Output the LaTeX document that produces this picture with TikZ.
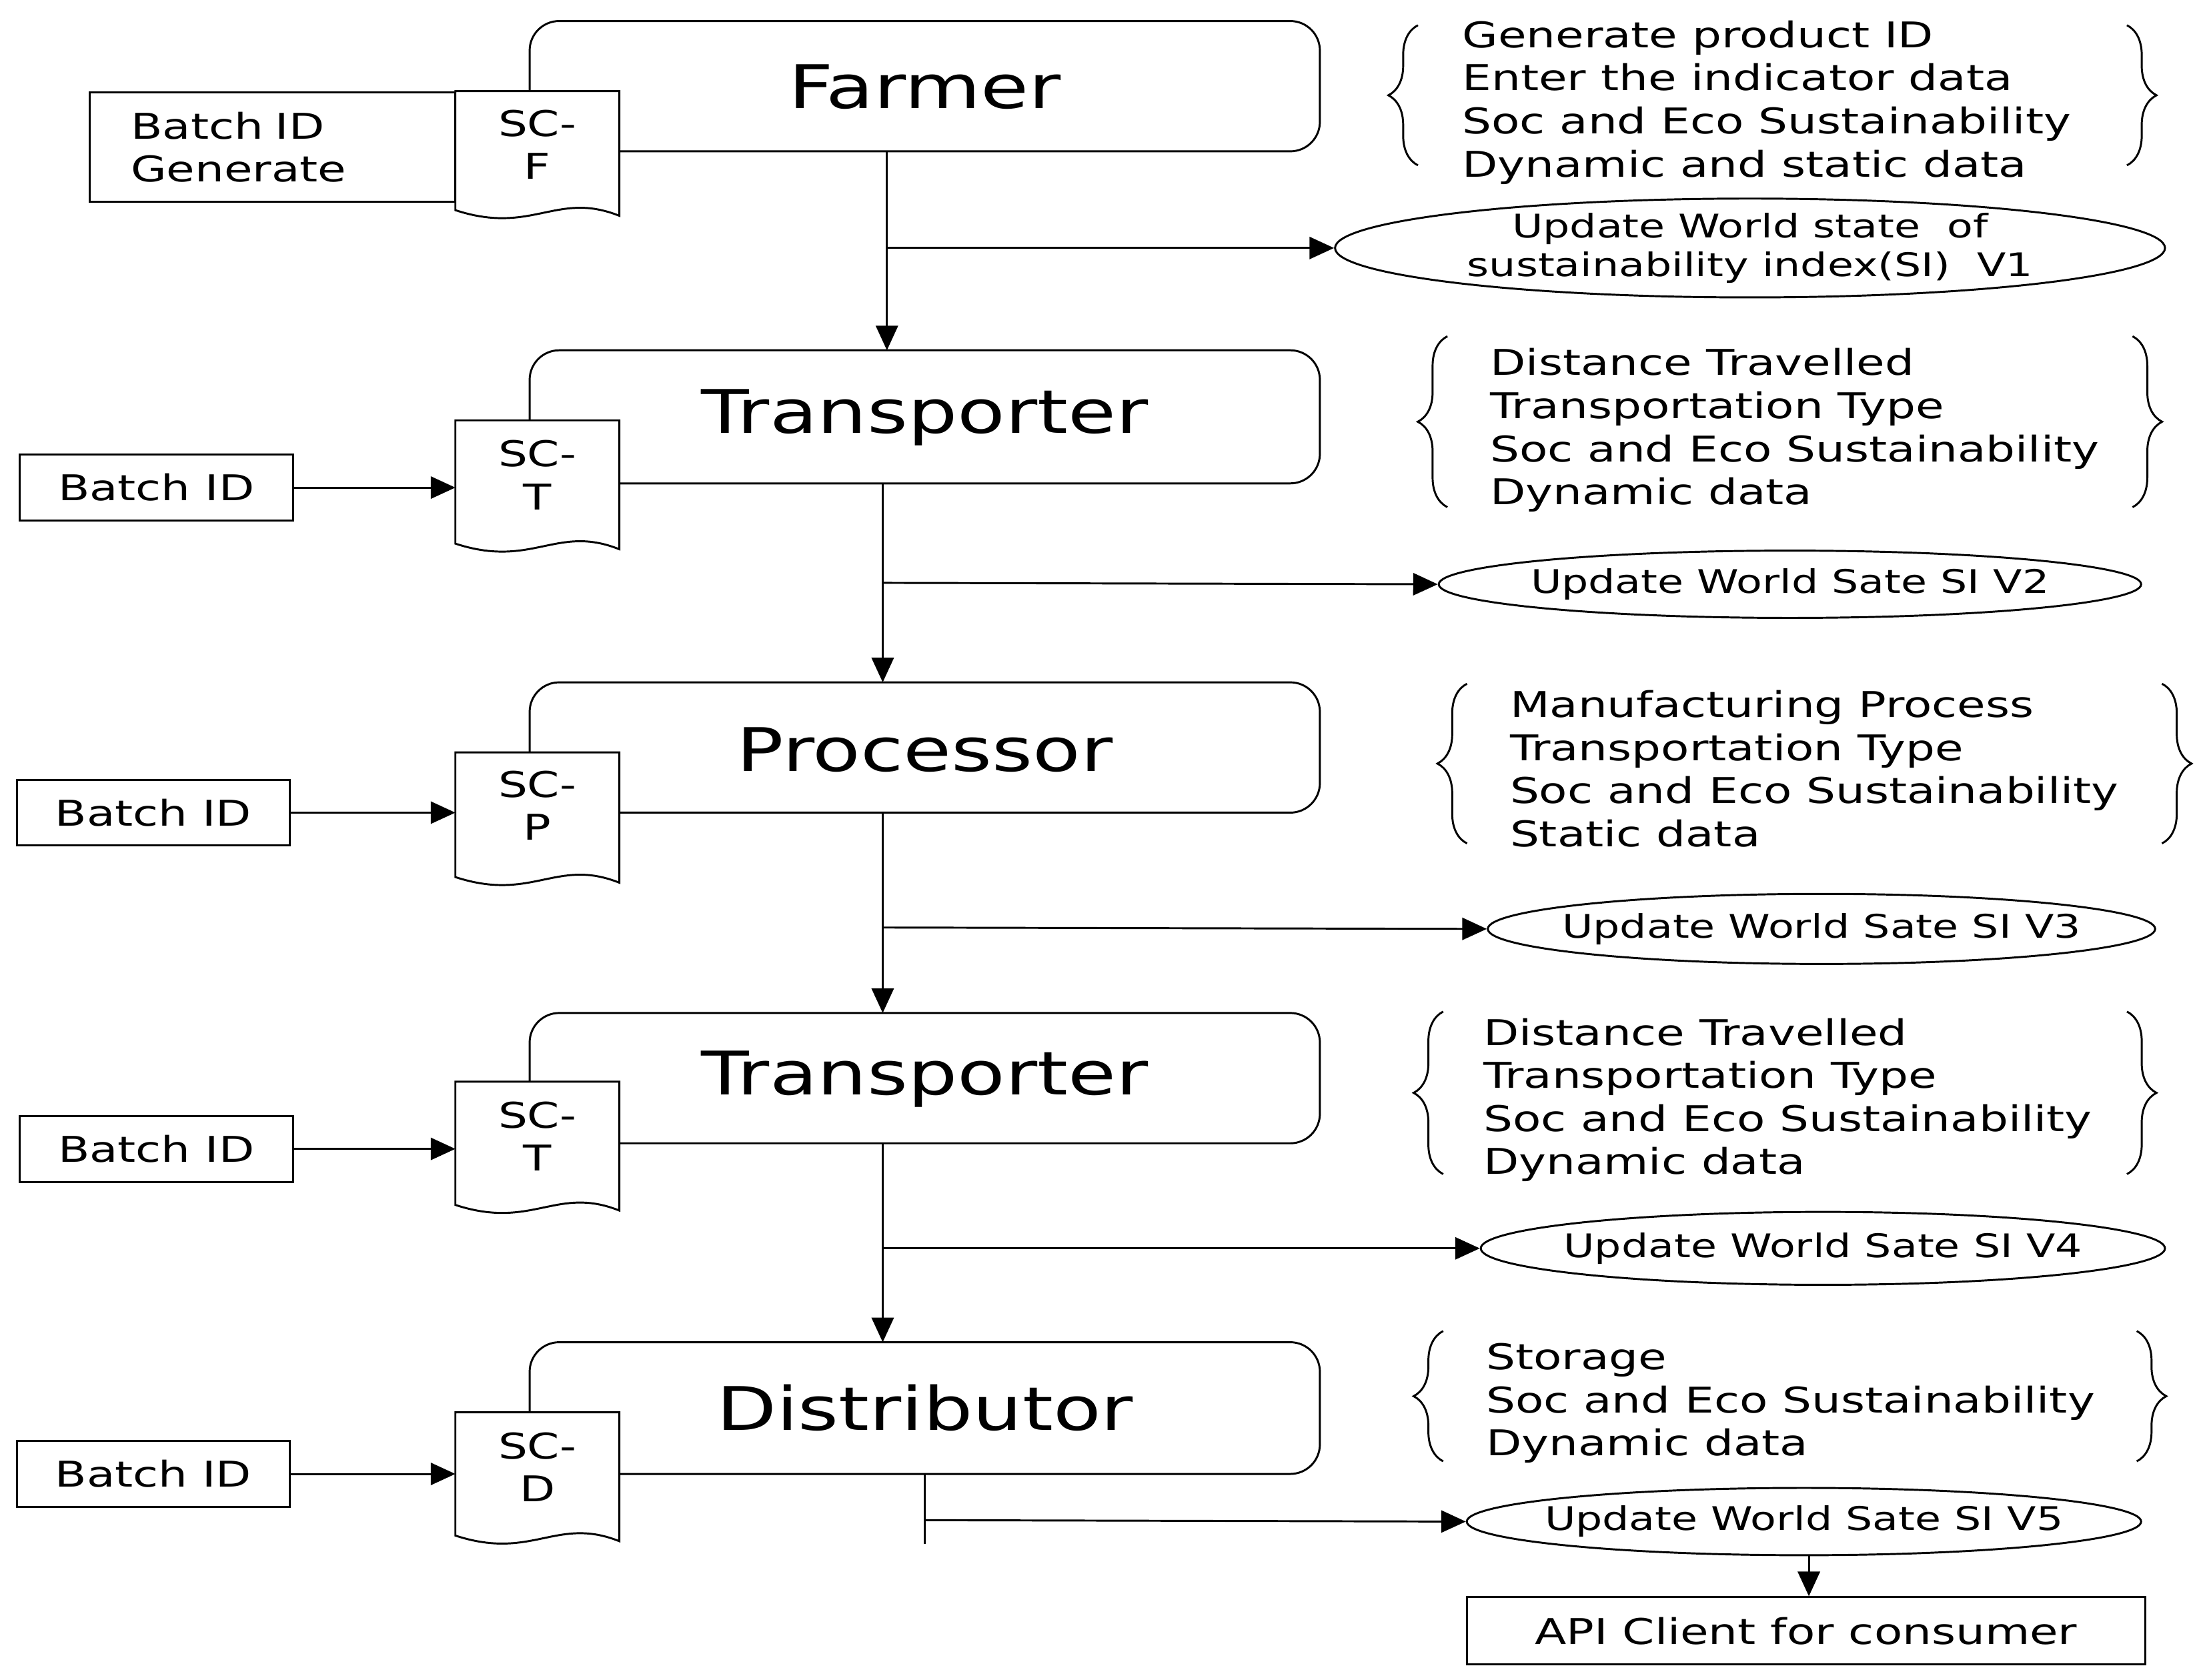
\documentclass[tikz,border=0pt]{standalone}
\usepackage{fontspec}
\setmainfont{DejaVu Sans}[FakeStretch=1.3]
\usetikzlibrary{positioning, arrows.meta, shapes.geometric, decorations.pathreplacing}
\tikzset{
    >={Triangle[length=5pt,width=4.5pt]}, % filled heads
    line width=0.9pt,
}
% document shape with a wavy bottom: x left, x right, y top, y bottom
\newcommand{\docshape}[4]{%
  \draw[fill=white] (#1,#3) -- (#2,#3) -- (#2,#4+4)
    .. controls (#2-45,#4-14) and (#1+55,#4+18) .. (#1,#4) -- cycle;}
% curly braces around a list: x left, x right, y top, y bottom
\newcommand{\listbraces}[4]{%
  \draw[decorate,decoration={brace,amplitude=6pt}] (#1,#4) -- (#1,#3);
  \draw[decorate,decoration={brace,amplitude=6pt}] (#2,#3) -- (#2,#4);}
\begin{document}
\begin{tikzpicture}[x=0.01cm, y=-0.01cm,
        Stage/.style={draw, rounded corners=6pt, fill=white},
        Title/.style={font=\fontsize{12.2}{14}\selectfont},
        Batch/.style={draw, minimum height=1.3cm, inner sep=0pt, font=\fontsize{7.2}{8.5}\selectfont},
        Doc/.style={minimum width=1.17cm, minimum height=0.88cm, align=center, font=\fontsize{7.2}{8.7}\selectfont},
        World/.style={draw, ellipse, inner xsep=-1.2cm, inner ysep=0pt, align=center, font=\fontsize{6.6}{7.8}\selectfont},
        Items/.style={anchor=north west, align=left, inner sep=0pt, font=\fontsize{7.2}{8.75}\selectfont}]
        \useasboundingbox (0,0) rectangle (1568,1199);

        % Farmer
        \draw[Stage] (378,15) rectangle (942,108);
        \node[Title] (farmer) at (660,62) {Farmer};
        \node[draw, minimum width=2.61cm, minimum height=0.78cm, text width=2.02cm, align=left, font=\fontsize{7.2}{8.7}\selectfont] (bf) at (194.5,105) {Batch ID\\Generate};
        \docshape{325}{442}{65}{150}
        \node[Doc] (scf) at (383.5,103) {SC-\\F};
        \node[Items] (lf) at (1043,14) {Generate product ID\\Enter the indicator data\\Soc and Eco Sustainability\\Dynamic and static data};
        \listbraces{1012}{1518}{18}{118}
        \node[World, minimum width=5.92cm, minimum height=0.57cm, inner xsep=-1.4cm] (w1) at (1249,177) {Update World state\ \ of\\sustainability index(SI)\ \ V1};

        % Transporter
        \draw[Stage] (378,250) rectangle (942,345);
        \node[Title] (trans) at (660,298) {Transporter};
        \node[Batch, minimum width=1.95cm, minimum height=0.47cm] (bt) at (111.5,348) {Batch ID};
        \docshape{325}{442}{300}{388}
        \node[Doc] (sct) at (383.5,339) {SC-\\T};
        \node[Items] (lt) at (1063,248) {Distance Travelled\\Transportation Type\\Soc and Eco Sustainability\\Dynamic data};
        \listbraces{1033}{1522}{240}{362}
        \node[World, minimum width=5.01cm, minimum height=0.48cm] (w2) at (1277.5,417) {Update World Sate SI V2};

        % Processor
        \draw[Stage] (378,487) rectangle (942,580);
        \node[Title] (proc) at (660,535) {Processor};
        \node[Batch, minimum width=1.95cm, minimum height=0.47cm] (bp) at (109.5,580) {Batch ID};
        \docshape{325}{442}{537}{626}
        \node[Doc] (scp) at (383.5,575) {SC-\\P};
        \node[Items] (lp) at (1077,492) {Manufacturing Process\\Transportation Type\\Soc and Eco Sustainability\\Static data};
        \listbraces{1047}{1543}{488}{602}
        \node[World, minimum width=4.76cm, minimum height=0.50cm] (w3) at (1300,663) {Update World Sate SI V3};

        % Transporter again
        \draw[Stage] (378,723) rectangle (942,816);
        \node[Title] (trans2) at (660,770) {Transporter};
        \node[Batch, minimum width=1.95cm, minimum height=0.47cm] (bt2) at (111.5,820) {Batch ID};
        \docshape{325}{442}{772}{860}
        \node[Doc] (sct2) at (383.5,811) {SC-\\T};
        \node[Items] (lt2) at (1058,726) {Distance Travelled\\Transportation Type\\Soc and Eco Sustainability\\Dynamic data};
        \listbraces{1030}{1518}{722}{838}
        \node[World, minimum width=4.88cm, minimum height=0.52cm] (w4) at (1301,891) {Update World Sate SI V4};

        % Distributor
        \draw[Stage] (378,958) rectangle (942,1052);
        \node[Title] (dist) at (660,1005) {Distributor};
        \node[Batch, minimum width=1.95cm, minimum height=0.47cm] (bd) at (109.5,1052) {Batch ID};
        \docshape{325}{442}{1008}{1096}
        \node[Doc] (scd) at (383.5,1047) {SC-\\D};
        \node[Items] (ld) at (1060,958) {Storage\\Soc and Eco Sustainability\\Dynamic data};
        \listbraces{1030}{1525}{950}{1043}
        \node[World, minimum width=4.81cm, minimum height=0.48cm] (w5) at (1287.5,1086) {Update World Sate SI V5};
        \node[draw, minimum width=4.84cm, minimum height=0.48cm, inner sep=0pt, font=\fontsize{7.2}{8.7}\selectfont] (api) at (1289,1164) {API Client for consumer};

        % flow between the stages
        \coordinate (s1) at (633,108);
        \coordinate (s2) at (630,345);
        \coordinate (s3) at (630,580);
        \coordinate (s4) at (630,816);
        \coordinate (s5) at (660,1052);
        \coordinate (e5) at (660,1102);
        \draw[->] (s1) -- (633,250);
        \draw[->] (633,177) -- (w1.west);
        \draw[->] (s2) -- (630,487);
        \draw[->] (630,416) -- (w2.west);
        \draw[->] (s3) -- (630,723);
        \draw[->] (630,662) -- (w3.west);
        \draw[->] (s4) -- (630,958);
        \draw[->] (630,891) -- (w4.west);
        \draw (s5) -- (e5);
        \draw[->] (660,1085) -- (w5.west);
        \draw[->] (1291,1110) -- (api.north -| 1291,0);

        % batch ids into the contracts
        \draw[->] (bt.east) -- (325,348);
        \draw[->] (bp.east) -- (325,580);
        \draw[->] (bt2.east) -- (325,820);
        \draw[->] (bd.east) -- (325,1052);
\end{tikzpicture}
\end{document}
